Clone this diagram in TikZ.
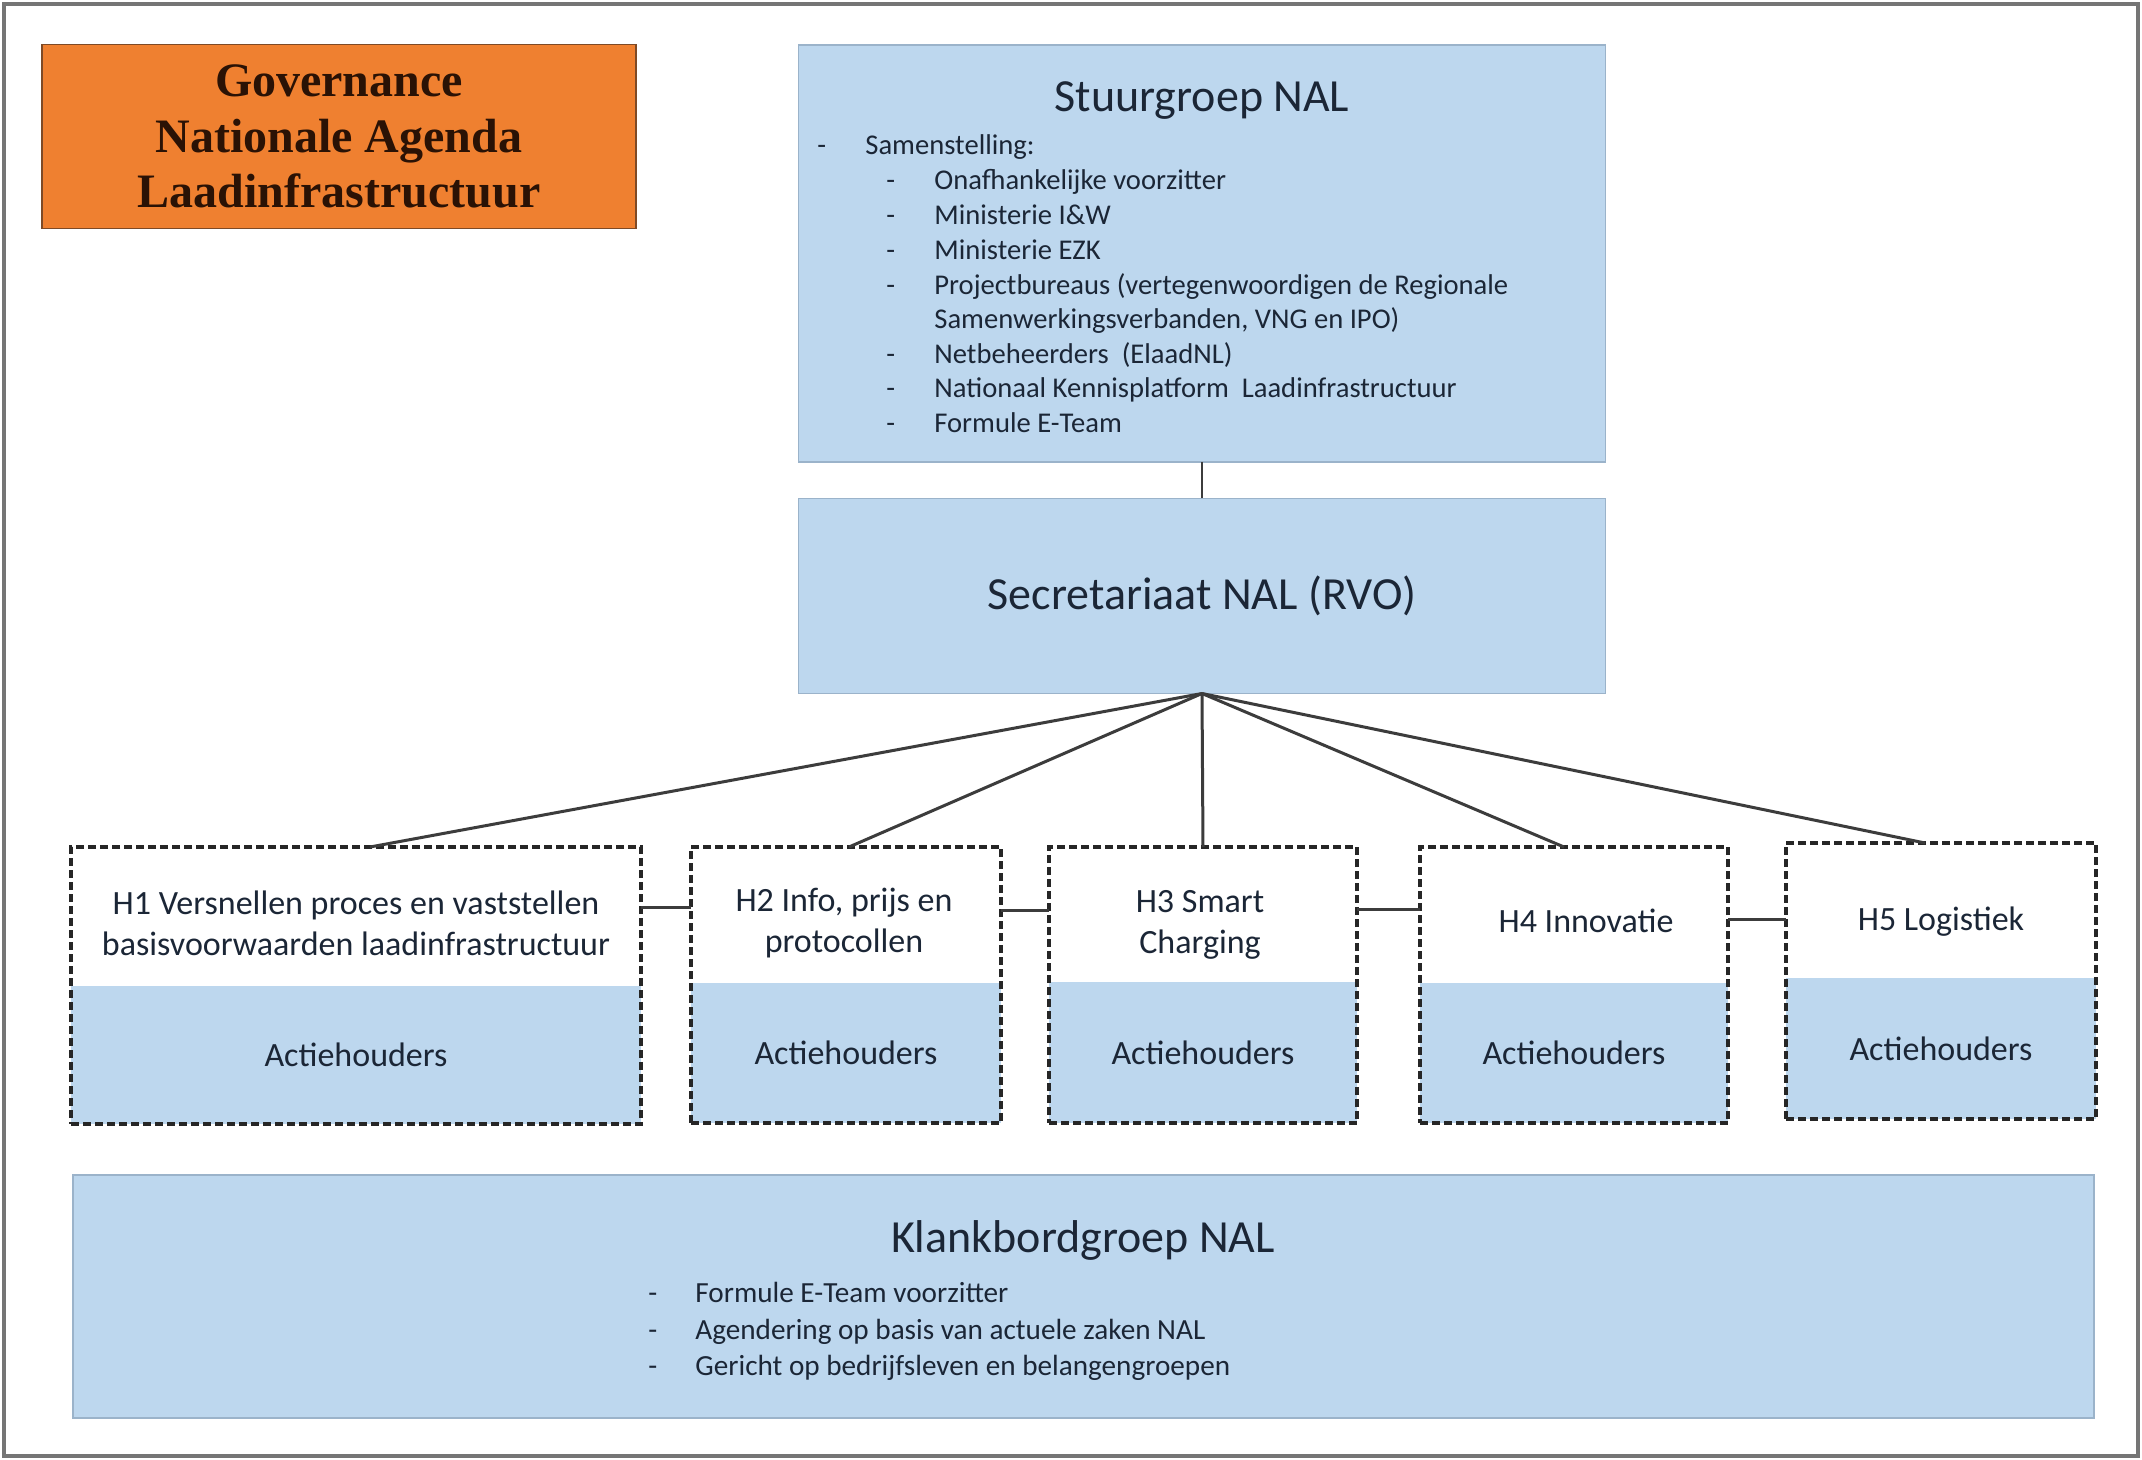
\documentclass[tikz,border=0pt]{standalone}
\usepackage{fontspec}
\setmainfont{Carlito}
\newfontfamily\govfont{Liberation Serif}
\usetikzlibrary{fit,calc}
\definecolor{lblue}{HTML}{BDD7EE}
\definecolor{bborder}{HTML}{9BB3CA}
\definecolor{orng}{HTML}{EF8030}
\definecolor{oborder}{HTML}{7E4A26}
\definecolor{txt}{HTML}{1B2636}
\definecolor{govtxt}{HTML}{2A1205}
\definecolor{conn}{HTML}{3C3C3C}
\definecolor{framecol}{HTML}{757575}
\tikzset{
  bluebox/.style={rectangle, fill=lblue, draw=bborder, line width=0.8pt, inner sep=0pt, outer sep=0pt},
  govbox/.style={rectangle, fill=orng, draw=oborder, line width=0.8pt, inner sep=0pt, outer sep=0pt, align=center,
    font=\govfont\bfseries\fontsize{24}{27.75}\selectfont, text=govtxt},
  titletext/.style={font=\fontsize{23}{27}\selectfont, text=txt, inner sep=0pt},
  listitem/.style={font=\fontsize{14.3}{17}\selectfont, text=txt, anchor=west, inner sep=0pt,
    text height=0.75em, text depth=0.25em},
  klitem/.style={font=\fontsize{14.6}{17}\selectfont, text=txt, anchor=west, inner sep=0pt,
    text height=0.75em, text depth=0.25em},
  htop/.style={rectangle, fill=white, inner sep=0pt, outer sep=0pt},
  hlabel/.style={align=center, inner sep=0pt, font=\fontsize{17}{20.5}\selectfont, text=txt},
  hbot/.style={rectangle, fill=lblue, inner sep=0pt, outer sep=0pt,
    font=\fontsize{17}{20.5}\selectfont, text=txt},
  hframe/.style={draw=black!85, line width=1.8pt, dash pattern=on 4pt off 2pt, inner sep=0pt, outer sep=0pt},
  link/.style={draw=conn, line width=1.5pt},
  thinlink/.style={draw=conn, line width=1pt},
}
\begin{document}
\begin{tikzpicture}[x=0.5pt,y=-0.5pt]
\useasboundingbox (0,0) rectangle (2142,1460);
\fill[white] (0,0) rectangle (2142,1460);
\draw[framecol, line width=2pt] (4,4) rectangle (2138,1456);

% Title box
\node[govbox, minimum width=297pt, minimum height=92pt] (gov) at (339,136.5)
  {Governance\\Nationale Agenda\\Laadinfrastructuur};

% Stuurgroep
\node[bluebox, minimum width=403.5pt, minimum height=208.5pt] (stuur) at (1202,253.5) {};
\node[titletext] (stuurT) at (1202,101) {Stuurgroep NAL};
\node[listitem] (sb0) at (817,150) {-};
\node[listitem] (st0) at (865,150) {Samenstelling:};
\node[listitem] (sb1) at (886,185) {-};
\node[listitem] (st1) at (934,185) {Onafhankelijke voorzitter};
\node[listitem] (sb2) at (886,220) {-};
\node[listitem] (st2) at (934,220) {Ministerie I\&W};
\node[listitem] (sb3) at (886,255) {-};
\node[listitem] (st3) at (934,255) {Ministerie EZK};
\node[listitem] (sb4) at (886,290) {-};
\node[listitem] (st4) at (934,290) {Projectbureaus (vertegenwoordigen de Regionale};
\node[listitem] (st4b) at (934,324) {Samenwerkingsverbanden, VNG en IPO)};
\node[listitem] (sb5) at (886,359) {-};
\node[listitem] (st5) at (934,359) {Netbeheerders\ \ (ElaadNL)};
\node[listitem] (sb6) at (886,393) {-};
\node[listitem] (st6) at (934,393) {Nationaal Kennisplatform\ \ Laadinfrastructuur};
\node[listitem] (sb7) at (886,428) {-};
\node[listitem] (st7) at (934,428) {Formule E-Team};

% Secretariaat
\node[bluebox, minimum width=403.5pt, minimum height=97.5pt, font=\fontsize{23}{27}\selectfont, text=txt] (sec) at (1202,596) {Secretariaat NAL (RVO)};

\draw[thinlink] (stuur.south) -- (sec.north);

% H boxes
\node[htop, minimum width=285pt, minimum height=69.5pt] (h1t) at (356,916.5) {};
\node[hbot, minimum width=285pt, minimum height=69pt] (h1a) at (356,1055) {Actiehouders};
\node[hframe, fit=(h1t)(h1a)] (h1) {};
\node[hlabel] (h1l) at (356,923) {H1 Versnellen proces en vaststellen\\basisvoorwaarden laadinfrastructuur};

\node[htop, minimum width=155pt, minimum height=68pt] (h2t) at (846,915) {};
\node[hbot, minimum width=155pt, minimum height=70pt] (h2a) at (846,1053) {Actiehouders};
\node[hframe, fit=(h2t)(h2a)] (h2) {};
\node[hlabel] (h2l) at (844,923) {H2 Info, prijs en\\protocollen};

\node[htop, minimum width=154pt, minimum height=67.5pt] (h3t) at (1203,914.5) {};
\node[hbot, minimum width=154pt, minimum height=70.5pt] (h3a) at (1203,1052.5) {Actiehouders};
\node[hframe, fit=(h3t)(h3a)] (h3) {};
\node[hlabel] (h3l) at (1200,925) {H3 Smart\\Charging};

\node[htop, minimum width=154pt, minimum height=68pt] (h4t) at (1574,915) {};
\node[hbot, minimum width=154pt, minimum height=70pt] (h4a) at (1574,1053) {Actiehouders};
\node[hframe, fit=(h4t)(h4a)] (h4) {};
\node[hlabel] (h4l) at (1586,921) {H4 Innovatie};

\node[htop, minimum width=155pt, minimum height=67.5pt] (h5t) at (1941,910.5) {};
\node[hbot, minimum width=155pt, minimum height=70.5pt] (h5a) at (1941,1048.5) {Actiehouders};
\node[hframe, fit=(h5t)(h5a)] (h5) {};
\node[hlabel] (h5l) at (1941,922) {H5 Logistiek};

% connectors from secretariaat
\draw[link] (sec.south) -- ([xshift=7pt]h1.north);
\draw[link] (sec.south) -- ([xshift=1.5pt]h2.north);
\draw[link] (sec.south) -- (h3.north);
\draw[link] (sec.south) -- ([xshift=-5pt]h4.north);
\draw[link] (sec.south) -- ([xshift=-8pt]h5.north);

% horizontal connectors
\draw[link] ([yshift=4.5pt]h1.east |- h1t.east) -- ([yshift=4.5pt]h2.west |- h1t.east);
\draw[link] ([yshift=2.5pt]h2.east |- h2t.east) -- ([yshift=2.5pt]h3.west |- h2t.east);
\draw[link] ([yshift=2.5pt]h3.east |- h3t.east) -- ([yshift=2.5pt]h4.west |- h3t.east);
\draw[link] ([yshift=-2pt]h4.east |- h4t.east) -- ([yshift=-2pt]h5.west |- h4t.east);

% Klankbordgroep
\node[bluebox, minimum width=1010.5pt, minimum height=121.5pt] (klank) at (1083.5,1296.5) {};
\node[titletext] (klankT) at (1083,1240) {Klankbordgroep NAL};
\node[klitem] (kb1) at (648,1297) {-};
\node[klitem] (kt1) at (695,1297) {Formule E-Team voorzitter};
\node[klitem] (kb2) at (648,1334) {-};
\node[klitem] (kt2) at (695,1334) {Agendering op basis van actuele zaken NAL};
\node[klitem] (kb3) at (648,1370) {-};
\node[klitem] (kt3) at (695,1370) {Gericht op bedrijfsleven en belangengroepen};
\end{tikzpicture}
\end{document}
